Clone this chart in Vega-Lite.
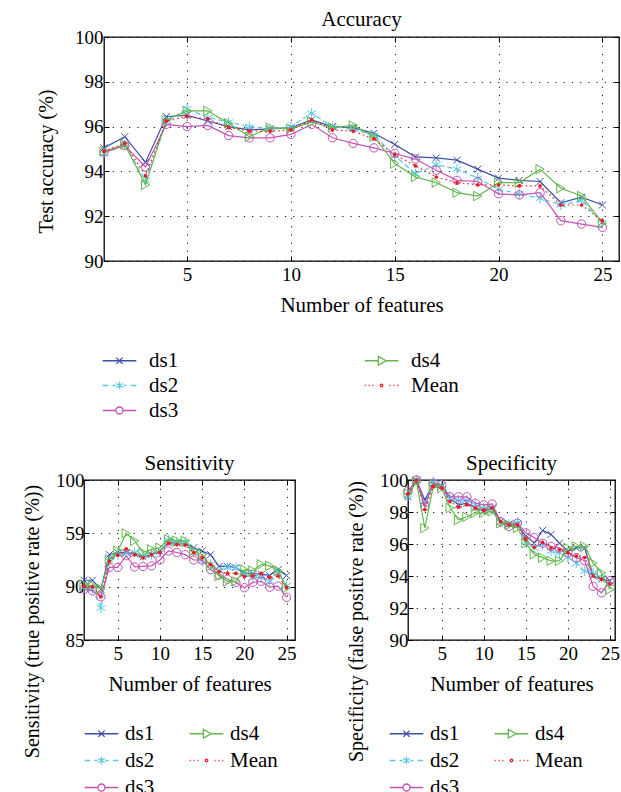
{
"$schema":"https://vega.github.io/schema/vega-lite/v6.json",
"padding":{"left":21,"top":8,"right":0,"bottom":0},
"align":"none",
"config":{
"font":"Liberation Serif",
"view":{"stroke":"#000","strokeWidth":1.3},
"axis":{"labelFont":"Liberation Serif","titleFont":"Liberation Serif","labelFontSize":19,"titleFontSize":21,"labelColor":"#000","titleColor":"#000","titleFontWeight":"normal","domain":false,"ticks":true,"tickColor":"#000","tickSize":-5,"tickWidth":1,"gridColor":"#000","gridDash":[1.2,7],"gridWidth":1,"gridOpacity":0.9},
"title":{"font":"Liberation Serif","fontSize":21,"fontWeight":"normal","color":"#000"},
"legend":{"labelFont":"Liberation Serif","labelFontSize":21,"labelColor":"#000","symbolOpacity":1,"symbolStrokeWidth":1.3,"symbolSize":196,"title":null,"columns":2,"direction":"vertical"}
},
"datasets":{
"acc":[
{"n":1,"s":"ds1","v":95.05},{"n":2,"s":"ds1","v":95.55},{"n":3,"s":"ds1","v":94.4},{"n":4,"s":"ds1","v":96.45},{"n":5,"s":"ds1","v":96.5},{"n":6,"s":"ds1","v":96.25},{"n":7,"s":"ds1","v":96.0},{"n":8,"s":"ds1","v":95.85},{"n":9,"s":"ds1","v":95.9},{"n":10,"s":"ds1","v":95.95},{"n":11,"s":"ds1","v":96.3},{"n":12,"s":"ds1","v":96.0},{"n":13,"s":"ds1","v":95.95},{"n":14,"s":"ds1","v":95.7},{"n":15,"s":"ds1","v":95.2},{"n":16,"s":"ds1","v":94.65},{"n":17,"s":"ds1","v":94.6},{"n":18,"s":"ds1","v":94.5},{"n":19,"s":"ds1","v":94.1},{"n":20,"s":"ds1","v":93.7},{"n":21,"s":"ds1","v":93.6},{"n":22,"s":"ds1","v":93.55},{"n":23,"s":"ds1","v":92.6},{"n":24,"s":"ds1","v":92.85},{"n":25,"s":"ds1","v":92.5},
{"n":1,"s":"ds2","v":94.8},{"n":2,"s":"ds2","v":95.2},{"n":3,"s":"ds2","v":93.6},{"n":4,"s":"ds2","v":96.2},{"n":5,"s":"ds2","v":96.8},{"n":6,"s":"ds2","v":96.4},{"n":7,"s":"ds2","v":96.2},{"n":8,"s":"ds2","v":96.0},{"n":9,"s":"ds2","v":95.9},{"n":10,"s":"ds2","v":96.0},{"n":11,"s":"ds2","v":96.6},{"n":12,"s":"ds2","v":96.0},{"n":13,"s":"ds2","v":95.9},{"n":14,"s":"ds2","v":95.6},{"n":15,"s":"ds2","v":94.7},{"n":16,"s":"ds2","v":93.9},{"n":17,"s":"ds2","v":94.3},{"n":18,"s":"ds2","v":94.1},{"n":19,"s":"ds2","v":93.7},{"n":20,"s":"ds2","v":93.2},{"n":21,"s":"ds2","v":93.0},{"n":22,"s":"ds2","v":92.8},{"n":23,"s":"ds2","v":92.5},{"n":24,"s":"ds2","v":92.7},{"n":25,"s":"ds2","v":91.7},
{"n":1,"s":"ds3","v":94.85},{"n":2,"s":"ds3","v":95.15},{"n":3,"s":"ds3","v":94.2},{"n":4,"s":"ds3","v":96.1},{"n":5,"s":"ds3","v":96.0},{"n":6,"s":"ds3","v":96.05},{"n":7,"s":"ds3","v":95.6},{"n":8,"s":"ds3","v":95.5},{"n":9,"s":"ds3","v":95.5},{"n":10,"s":"ds3","v":95.65},{"n":11,"s":"ds3","v":96.1},{"n":12,"s":"ds3","v":95.5},{"n":13,"s":"ds3","v":95.25},{"n":14,"s":"ds3","v":95.05},{"n":15,"s":"ds3","v":94.8},{"n":16,"s":"ds3","v":94.55},{"n":17,"s":"ds3","v":94.05},{"n":18,"s":"ds3","v":93.6},{"n":19,"s":"ds3","v":93.55},{"n":20,"s":"ds3","v":93.0},{"n":21,"s":"ds3","v":92.95},{"n":22,"s":"ds3","v":93.05},{"n":23,"s":"ds3","v":91.8},{"n":24,"s":"ds3","v":91.65},{"n":25,"s":"ds3","v":91.5},
{"n":1,"s":"ds4","v":94.9},{"n":2,"s":"ds4","v":95.2},{"n":3,"s":"ds4","v":93.4},{"n":4,"s":"ds4","v":96.3},{"n":5,"s":"ds4","v":96.7},{"n":6,"s":"ds4","v":96.7},{"n":7,"s":"ds4","v":96.15},{"n":8,"s":"ds4","v":95.55},{"n":9,"s":"ds4","v":95.95},{"n":10,"s":"ds4","v":95.9},{"n":11,"s":"ds4","v":96.2},{"n":12,"s":"ds4","v":95.95},{"n":13,"s":"ds4","v":96.05},{"n":14,"s":"ds4","v":95.55},{"n":15,"s":"ds4","v":94.35},{"n":16,"s":"ds4","v":93.75},{"n":17,"s":"ds4","v":93.5},{"n":18,"s":"ds4","v":93.05},{"n":19,"s":"ds4","v":92.9},{"n":20,"s":"ds4","v":93.5},{"n":21,"s":"ds4","v":93.5},{"n":22,"s":"ds4","v":94.1},{"n":23,"s":"ds4","v":93.25},{"n":24,"s":"ds4","v":92.9},{"n":25,"s":"ds4","v":91.7},
{"n":1,"s":"Mean","v":94.9},{"n":2,"s":"Mean","v":95.25},{"n":3,"s":"Mean","v":93.8},{"n":4,"s":"Mean","v":96.25},{"n":5,"s":"Mean","v":96.45},{"n":6,"s":"Mean","v":96.35},{"n":7,"s":"Mean","v":95.95},{"n":8,"s":"Mean","v":95.8},{"n":9,"s":"Mean","v":95.8},{"n":10,"s":"Mean","v":95.85},{"n":11,"s":"Mean","v":96.3},{"n":12,"s":"Mean","v":95.85},{"n":13,"s":"Mean","v":95.8},{"n":14,"s":"Mean","v":95.45},{"n":15,"s":"Mean","v":94.75},{"n":16,"s":"Mean","v":94.25},{"n":17,"s":"Mean","v":93.75},{"n":18,"s":"Mean","v":93.5},{"n":19,"s":"Mean","v":93.4},{"n":20,"s":"Mean","v":93.4},{"n":21,"s":"Mean","v":93.35},{"n":22,"s":"Mean","v":93.35},{"n":23,"s":"Mean","v":92.5},{"n":24,"s":"Mean","v":92.5},{"n":25,"s":"Mean","v":91.8}
],
"sens":[
{"n":1,"s":"ds1","v":90.6},{"n":2,"s":"ds1","v":90.6},{"n":3,"s":"ds1","v":89.75},{"n":4,"s":"ds1","v":93.0},{"n":5,"s":"ds1","v":93.2},{"n":6,"s":"ds1","v":93.2},{"n":7,"s":"ds1","v":93.1},{"n":8,"s":"ds1","v":92.8},{"n":9,"s":"ds1","v":93.0},{"n":10,"s":"ds1","v":93.35},{"n":11,"s":"ds1","v":94.1},{"n":12,"s":"ds1","v":94.1},{"n":13,"s":"ds1","v":94.05},{"n":14,"s":"ds1","v":93.65},{"n":15,"s":"ds1","v":93.35},{"n":16,"s":"ds1","v":93.0},{"n":17,"s":"ds1","v":91.9},{"n":18,"s":"ds1","v":91.9},{"n":19,"s":"ds1","v":91.8},{"n":20,"s":"ds1","v":91.3},{"n":21,"s":"ds1","v":91.25},{"n":22,"s":"ds1","v":91.15},{"n":23,"s":"ds1","v":91.05},{"n":24,"s":"ds1","v":91.6},{"n":25,"s":"ds1","v":91.05},
{"n":1,"s":"ds2","v":89.9},{"n":2,"s":"ds2","v":89.8},{"n":3,"s":"ds2","v":88.0},{"n":4,"s":"ds2","v":92.4},{"n":5,"s":"ds2","v":93.0},{"n":6,"s":"ds2","v":93.2},{"n":7,"s":"ds2","v":93.2},{"n":8,"s":"ds2","v":92.9},{"n":9,"s":"ds2","v":93.0},{"n":10,"s":"ds2","v":93.2},{"n":11,"s":"ds2","v":94.4},{"n":12,"s":"ds2","v":94.2},{"n":13,"s":"ds2","v":94.2},{"n":14,"s":"ds2","v":93.2},{"n":15,"s":"ds2","v":92.4},{"n":16,"s":"ds2","v":92.1},{"n":17,"s":"ds2","v":91.5},{"n":18,"s":"ds2","v":91.8},{"n":19,"s":"ds2","v":91.8},{"n":20,"s":"ds2","v":91.15},{"n":21,"s":"ds2","v":90.85},{"n":22,"s":"ds2","v":90.85},{"n":23,"s":"ds2","v":90.5},{"n":24,"s":"ds2","v":91.3},{"n":25,"s":"ds2","v":90.1},
{"n":1,"s":"ds3","v":89.75},{"n":2,"s":"ds3","v":89.6},{"n":3,"s":"ds3","v":89.05},{"n":4,"s":"ds3","v":91.8},{"n":5,"s":"ds3","v":91.8},{"n":6,"s":"ds3","v":92.9},{"n":7,"s":"ds3","v":91.85},{"n":8,"s":"ds3","v":91.9},{"n":9,"s":"ds3","v":91.95},{"n":10,"s":"ds3","v":92.5},{"n":11,"s":"ds3","v":93.35},{"n":12,"s":"ds3","v":93.2},{"n":13,"s":"ds3","v":93.0},{"n":14,"s":"ds3","v":92.5},{"n":15,"s":"ds3","v":92.5},{"n":16,"s":"ds3","v":91.6},{"n":17,"s":"ds3","v":91.1},{"n":18,"s":"ds3","v":90.7},{"n":19,"s":"ds3","v":90.4},{"n":20,"s":"ds3","v":89.9},{"n":21,"s":"ds3","v":90.4},{"n":22,"s":"ds3","v":90.5},{"n":23,"s":"ds3","v":89.95},{"n":24,"s":"ds3","v":90.05},{"n":25,"s":"ds3","v":89.0},
{"n":1,"s":"ds4","v":90.2},{"n":2,"s":"ds4","v":90.1},{"n":3,"s":"ds4","v":89.8},{"n":4,"s":"ds4","v":92.55},{"n":5,"s":"ds4","v":93.35},{"n":6,"s":"ds4","v":95.0},{"n":7,"s":"ds4","v":94.3},{"n":8,"s":"ds4","v":93.2},{"n":9,"s":"ds4","v":93.5},{"n":10,"s":"ds4","v":93.65},{"n":11,"s":"ds4","v":94.45},{"n":12,"s":"ds4","v":94.3},{"n":13,"s":"ds4","v":94.3},{"n":14,"s":"ds4","v":93.35},{"n":15,"s":"ds4","v":93.0},{"n":16,"s":"ds4","v":91.95},{"n":17,"s":"ds4","v":91.0},{"n":18,"s":"ds4","v":90.5},{"n":19,"s":"ds4","v":90.5},{"n":20,"s":"ds4","v":91.6},{"n":21,"s":"ds4","v":91.5},{"n":22,"s":"ds4","v":92.1},{"n":23,"s":"ds4","v":91.95},{"n":24,"s":"ds4","v":91.5},{"n":25,"s":"ds4","v":89.9},
{"n":1,"s":"Mean","v":90.05},{"n":2,"s":"Mean","v":90.0},{"n":3,"s":"Mean","v":89.05},{"n":4,"s":"Mean","v":92.4},{"n":5,"s":"Mean","v":92.95},{"n":6,"s":"Mean","v":93.55},{"n":7,"s":"Mean","v":93.0},{"n":8,"s":"Mean","v":92.7},{"n":9,"s":"Mean","v":93.0},{"n":10,"s":"Mean","v":93.2},{"n":11,"s":"Mean","v":94.05},{"n":12,"s":"Mean","v":93.95},{"n":13,"s":"Mean","v":93.9},{"n":14,"s":"Mean","v":93.2},{"n":15,"s":"Mean","v":92.7},{"n":16,"s":"Mean","v":92.1},{"n":17,"s":"Mean","v":91.4},{"n":18,"s":"Mean","v":91.25},{"n":19,"s":"Mean","v":91.25},{"n":20,"s":"Mean","v":90.95},{"n":21,"s":"Mean","v":91.0},{"n":22,"s":"Mean","v":91.25},{"n":23,"s":"Mean","v":90.85},{"n":24,"s":"Mean","v":91.0},{"n":25,"s":"Mean","v":89.9}
],
"spec":[
{"n":1,"s":"ds1","v":98.95},{"n":2,"s":"ds1","v":100.0},{"n":3,"s":"ds1","v":98.75},{"n":4,"s":"ds1","v":99.8},{"n":5,"s":"ds1","v":99.6},{"n":6,"s":"ds1","v":98.85},{"n":7,"s":"ds1","v":98.45},{"n":8,"s":"ds1","v":98.55},{"n":9,"s":"ds1","v":98.25},{"n":10,"s":"ds1","v":98.05},{"n":11,"s":"ds1","v":98.25},{"n":12,"s":"ds1","v":97.4},{"n":13,"s":"ds1","v":97.25},{"n":14,"s":"ds1","v":97.2},{"n":15,"s":"ds1","v":96.5},{"n":16,"s":"ds1","v":96.05},{"n":17,"s":"ds1","v":96.85},{"n":18,"s":"ds1","v":96.6},{"n":19,"s":"ds1","v":96.05},{"n":20,"s":"ds1","v":95.55},{"n":21,"s":"ds1","v":95.75},{"n":22,"s":"ds1","v":95.75},{"n":23,"s":"ds1","v":94.0},{"n":24,"s":"ds1","v":93.8},{"n":25,"s":"ds1","v":93.7},
{"n":1,"s":"ds2","v":99.05},{"n":2,"s":"ds2","v":100.0},{"n":3,"s":"ds2","v":98.45},{"n":4,"s":"ds2","v":99.9},{"n":5,"s":"ds2","v":99.7},{"n":6,"s":"ds2","v":98.85},{"n":7,"s":"ds2","v":98.75},{"n":8,"s":"ds2","v":98.75},{"n":9,"s":"ds2","v":98.45},{"n":10,"s":"ds2","v":98.25},{"n":11,"s":"ds2","v":98.2},{"n":12,"s":"ds2","v":97.35},{"n":13,"s":"ds2","v":97.25},{"n":14,"s":"ds2","v":97.35},{"n":15,"s":"ds2","v":96.15},{"n":16,"s":"ds2","v":95.75},{"n":17,"s":"ds2","v":95.95},{"n":18,"s":"ds2","v":95.55},{"n":19,"s":"ds2","v":95.45},{"n":20,"s":"ds2","v":95.15},{"n":21,"s":"ds2","v":94.8},{"n":22,"s":"ds2","v":94.3},{"n":23,"s":"ds2","v":94.2},{"n":24,"s":"ds2","v":93.9},{"n":25,"s":"ds2","v":93.5},
{"n":1,"s":"ds3","v":99.3},{"n":2,"s":"ds3","v":100.0},{"n":3,"s":"ds3","v":98.35},{"n":4,"s":"ds3","v":99.8},{"n":5,"s":"ds3","v":99.7},{"n":6,"s":"ds3","v":98.95},{"n":7,"s":"ds3","v":98.95},{"n":8,"s":"ds3","v":98.95},{"n":9,"s":"ds3","v":98.55},{"n":10,"s":"ds3","v":98.45},{"n":11,"s":"ds3","v":98.5},{"n":12,"s":"ds3","v":97.4},{"n":13,"s":"ds3","v":97.1},{"n":14,"s":"ds3","v":97.3},{"n":15,"s":"ds3","v":96.7},{"n":16,"s":"ds3","v":96.4},{"n":17,"s":"ds3","v":96.05},{"n":18,"s":"ds3","v":95.85},{"n":19,"s":"ds3","v":95.75},{"n":20,"s":"ds3","v":95.45},{"n":21,"s":"ds3","v":95.15},{"n":22,"s":"ds3","v":94.95},{"n":23,"s":"ds3","v":93.35},{"n":24,"s":"ds3","v":92.95},{"n":25,"s":"ds3","v":93.7},
{"n":1,"s":"ds4","v":99.15},{"n":2,"s":"ds4","v":99.9},{"n":3,"s":"ds4","v":97.0},{"n":4,"s":"ds4","v":99.6},{"n":5,"s":"ds4","v":99.5},{"n":6,"s":"ds4","v":98.25},{"n":7,"s":"ds4","v":97.5},{"n":8,"s":"ds4","v":97.7},{"n":9,"s":"ds4","v":97.95},{"n":10,"s":"ds4","v":97.95},{"n":11,"s":"ds4","v":98.05},{"n":12,"s":"ds4","v":97.3},{"n":13,"s":"ds4","v":97.2},{"n":14,"s":"ds4","v":97.0},{"n":15,"s":"ds4","v":96.05},{"n":16,"s":"ds4","v":95.35},{"n":17,"s":"ds4","v":95.15},{"n":18,"s":"ds4","v":94.95},{"n":19,"s":"ds4","v":94.95},{"n":20,"s":"ds4","v":95.75},{"n":21,"s":"ds4","v":95.85},{"n":22,"s":"ds4","v":95.85},{"n":23,"s":"ds4","v":94.8},{"n":24,"s":"ds4","v":94.2},{"n":25,"s":"ds4","v":93.15},
{"n":1,"s":"Mean","v":99.15},{"n":2,"s":"Mean","v":100.0},{"n":3,"s":"Mean","v":98.15},{"n":4,"s":"Mean","v":99.6},{"n":5,"s":"Mean","v":99.5},{"n":6,"s":"Mean","v":98.65},{"n":7,"s":"Mean","v":98.3},{"n":8,"s":"Mean","v":98.45},{"n":9,"s":"Mean","v":98.25},{"n":10,"s":"Mean","v":98.1},{"n":11,"s":"Mean","v":98.25},{"n":12,"s":"Mean","v":97.4},{"n":13,"s":"Mean","v":97.2},{"n":14,"s":"Mean","v":97.2},{"n":15,"s":"Mean","v":96.3},{"n":16,"s":"Mean","v":95.8},{"n":17,"s":"Mean","v":96.1},{"n":18,"s":"Mean","v":95.75},{"n":19,"s":"Mean","v":95.65},{"n":20,"s":"Mean","v":95.45},{"n":21,"s":"Mean","v":95.25},{"n":22,"s":"Mean","v":95.15},{"n":23,"s":"Mean","v":94.0},{"n":24,"s":"Mean","v":93.8},{"n":25,"s":"Mean","v":93.5}
]
},
"spacing":30,
"resolve":{"scale":{"color":"independent","shape":"independent"}},
"vconcat":[
{
"spacing":-51,
"align":"none",
"resolve":{"scale":{"color":"independent","shape":"independent"}},
"hconcat":[
{"width":1,"height":10,"data":{"values":[]},"mark":"point","view":{"stroke":"transparent","fill":null}},
{
"width":515,"height":224,
"title":{"text":"Accuracy","frame":"group","offset":-2},
"data":{"name":"acc"},
"resolve":{"axis":{"x":"independent","y":"independent"}},
"layer":[
{"transform":[{"filter":"datum.s==='ds1'"}],"mark":{"type":"line","color":"#3d4fa6","strokeWidth":1.2,"point":{"shape":"M-1,-1L1,1M-1,1L1,-1","size":49,"filled":false,"color":"#3d4fa6","strokeWidth":1,"opacity":1}},
"encoding":{
"x":{"field":"n","type":"quantitative","scale":{"domain":[1,25.8],"nice":false,"zero":false},"axis":{"values":[5,10,15,20,25],"title":"Number of features","grid":true,"labelPadding":9,"titlePadding":10}},
"y":{"field":"v","type":"quantitative","scale":{"domain":[90,100],"nice":false,"zero":false},"axis":{"values":[90,92,94,96,98,100],"title":"Test accuracy (%)","titleFontSize":20,"grid":true,"labelPadding":6,"titlePadding":11,"titleX":-48,"titleY":124}}}},
{"transform":[{"filter":"datum.s==='ds2'"}],"mark":{"type":"line","color":"#5ac8e6","strokeWidth":1.2,"strokeDash":[5,3],"point":{"shape":"M0,-1V1M-0.87,-0.5L0.87,0.5M-0.87,0.5L0.87,-0.5","size":100,"filled":false,"color":"#5ac8e6","strokeWidth":1,"opacity":1}},"encoding":{"x":{"field":"n","type":"quantitative","axis":null},"y":{"field":"v","type":"quantitative","axis":null}}},
{"transform":[{"filter":"datum.s==='ds3'"}],"mark":{"type":"line","color":"#c452b4","strokeWidth":1.2,"point":{"shape":"circle","size":70,"filled":false,"color":"#c452b4","strokeWidth":1,"opacity":1}},"encoding":{"x":{"field":"n","type":"quantitative","axis":null},"y":{"field":"v","type":"quantitative","axis":null}}},
{"transform":[{"filter":"datum.s==='ds4'"}],"mark":{"type":"line","color":"#62b84c","strokeWidth":1.2,"point":{"shape":"triangle-right","size":90,"filled":false,"color":"#62b84c","strokeWidth":1,"opacity":1}},"encoding":{"x":{"field":"n","type":"quantitative","axis":null},"y":{"field":"v","type":"quantitative","axis":null}}},
{"transform":[{"filter":"datum.s==='Mean'"}],"mark":{"type":"line","color":"#ee1c24","strokeWidth":1.2,"strokeDash":[1.5,3],"point":{"shape":"circle","size":14,"filled":true,"color":"#ee1c24","opacity":1}},"encoding":{"x":{"field":"n","type":"quantitative","axis":null},"y":{"field":"v","type":"quantitative","axis":null}}},
{"mark":{"type":"point","filled":false,"opacity":0},
"encoding":{
"x":{"field":"n","type":"quantitative","axis":{"orient":"top","labels":false,"title":null,"grid":false,"values":[5,10,15,20,25]}},
"y":{"field":"v","type":"quantitative","axis":{"orient":"right","labels":false,"title":null,"grid":false,"values":[90,92,94,96,98,100]}},
"color":{"field":"s","type":"nominal","scale":{"domain":["ds1","ds2","ds3","ds4","Mean"],"range":["#3d4fa6","#5ac8e6","#c452b4","#62b84c","#ee1c24"]},"legend":{"orient":"none","legendX":5,"legendY":313,"columnPadding":183,"labelOffset":19,"labelFont":"Liberation Serif","rowPadding":3}},
"shape":{"field":"s","type":"nominal","scale":{"domain":["ds1","ds2","ds3","ds4","Mean"],"range":["M-2.4,0H2.4M-0.45,-0.45L0.45,0.45M-0.45,0.45L0.45,-0.45","M-2.4,0H-1.6M-1.0,0H-0.55M0.55,0H1.0M1.6,0H2.4M0,-0.55V0.55M-0.48,-0.28L0.48,0.28M-0.48,0.28L0.48,-0.28","M-2.4,0H-0.5M0.5,0H2.4M0.5,0A0.5,0.5 0 1,1 -0.5,0A0.5,0.5 0 1,1 0.5,0Z","M-2.4,0H-0.45M0.65,0H2.4M-0.45,-0.62L0.65,0L-0.45,0.62Z","M-2.4,0H-2.25M-1.85,0H-1.7M-1.3,0H-1.15M1.15,0H1.3M1.7,0H1.85M2.25,0H2.4M0.18,0A0.18,0.18 0 1,1 -0.18,0A0.18,0.18 0 1,1 0.18,0Z"]},"legend":{"orient":"none","legendX":5,"legendY":313,"columnPadding":183,"labelOffset":19,"labelFont":"Liberation Serif","rowPadding":3}}
}}
]
}
]
},
{
"spacing":48,
"align":"none",
"resolve":{"scale":{"color":"independent","shape":"independent"}},
"hconcat":[
{
"width":211,"height":160,
"title":{"text":"Sensitivity","frame":"group","offset":-3},
"data":{"name":"sens"},
"resolve":{"axis":{"x":"independent","y":"independent"}},
"layer":[
{"transform":[{"filter":"datum.s==='ds1'"}],"mark":{"type":"line","color":"#3d4fa6","strokeWidth":1.2,"point":{"shape":"M-1,-1L1,1M-1,1L1,-1","size":49,"filled":false,"color":"#3d4fa6","strokeWidth":1,"opacity":1}},
"encoding":{
"x":{"field":"n","type":"quantitative","scale":{"domain":[1,26],"nice":false,"zero":false},"axis":{"values":[5,10,15,20,25],"title":"Number of features","grid":true,"labelPadding":9,"titlePadding":10}},
"y":{"field":"v","type":"quantitative","scale":{"domain":[85,100],"nice":false,"zero":false},"axis":{"values":[85,90,95,100],"labelExpr":"datum.value === 95 ? '59' : datum.label","title":"Sensitivity (true positive rate (%))","titleFontSize":20,"grid":true,"labelPadding":5,"titlePadding":13,"titleY":141}}}},
{"transform":[{"filter":"datum.s==='ds2'"}],"mark":{"type":"line","color":"#5ac8e6","strokeWidth":1.2,"strokeDash":[5,3],"point":{"shape":"M0,-1V1M-0.87,-0.5L0.87,0.5M-0.87,0.5L0.87,-0.5","size":100,"filled":false,"color":"#5ac8e6","strokeWidth":1,"opacity":1}},"encoding":{"x":{"field":"n","type":"quantitative","axis":null},"y":{"field":"v","type":"quantitative","axis":null}}},
{"transform":[{"filter":"datum.s==='ds3'"}],"mark":{"type":"line","color":"#c452b4","strokeWidth":1.2,"point":{"shape":"circle","size":70,"filled":false,"color":"#c452b4","strokeWidth":1,"opacity":1}},"encoding":{"x":{"field":"n","type":"quantitative","axis":null},"y":{"field":"v","type":"quantitative","axis":null}}},
{"transform":[{"filter":"datum.s==='ds4'"}],"mark":{"type":"line","color":"#62b84c","strokeWidth":1.2,"point":{"shape":"triangle-right","size":90,"filled":false,"color":"#62b84c","strokeWidth":1,"opacity":1}},"encoding":{"x":{"field":"n","type":"quantitative","axis":null},"y":{"field":"v","type":"quantitative","axis":null}}},
{"transform":[{"filter":"datum.s==='Mean'"}],"mark":{"type":"line","color":"#ee1c24","strokeWidth":1.2,"strokeDash":[1.5,3],"point":{"shape":"circle","size":14,"filled":true,"color":"#ee1c24","opacity":1}},"encoding":{"x":{"field":"n","type":"quantitative","axis":null},"y":{"field":"v","type":"quantitative","axis":null}}},
{"mark":{"type":"point","filled":false,"opacity":0},
"encoding":{
"x":{"field":"n","type":"quantitative","axis":{"orient":"top","labels":false,"title":null,"grid":false,"values":[5,10,15,20,25]}},
"y":{"field":"v","type":"quantitative","axis":{"orient":"right","labels":false,"title":null,"grid":false,"values":[85,90,95,100]}},
"color":{"field":"s","type":"nominal","scale":{"domain":["ds1","ds2","ds3","ds4","Mean"],"range":["#3d4fa6","#5ac8e6","#c452b4","#62b84c","#ee1c24"]},"legend":{"orient":"none","legendX":7,"legendY":243,"columnPadding":32,"labelOffset":13,"labelFont":"Liberation Serif","rowPadding":5}},
"shape":{"field":"s","type":"nominal","scale":{"domain":["ds1","ds2","ds3","ds4","Mean"],"range":["M-2.4,0H2.4M-0.45,-0.45L0.45,0.45M-0.45,0.45L0.45,-0.45","M-2.4,0H-1.6M-1.0,0H-0.55M0.55,0H1.0M1.6,0H2.4M0,-0.55V0.55M-0.48,-0.28L0.48,0.28M-0.48,0.28L0.48,-0.28","M-2.4,0H-0.5M0.5,0H2.4M0.5,0A0.5,0.5 0 1,1 -0.5,0A0.5,0.5 0 1,1 0.5,0Z","M-2.4,0H-0.45M0.65,0H2.4M-0.45,-0.62L0.65,0L-0.45,0.62Z","M-2.4,0H-2.25M-1.85,0H-1.7M-1.3,0H-1.15M1.15,0H1.3M1.7,0H1.85M2.25,0H2.4M0.18,0A0.18,0.18 0 1,1 -0.18,0A0.18,0.18 0 1,1 0.18,0Z"]},"legend":{"orient":"none","legendX":7,"legendY":243,"columnPadding":32,"labelOffset":13,"labelFont":"Liberation Serif","rowPadding":5}}
}}
]
},
{
"width":207,"height":160,
"title":{"text":"Specificity","frame":"group","offset":-3},
"data":{"name":"spec"},
"resolve":{"axis":{"x":"independent","y":"independent"}},
"layer":[
{"transform":[{"filter":"datum.s==='ds1'"}],"mark":{"type":"line","color":"#3d4fa6","strokeWidth":1.2,"point":{"shape":"M-1,-1L1,1M-1,1L1,-1","size":49,"filled":false,"color":"#3d4fa6","strokeWidth":1,"opacity":1}},
"encoding":{
"x":{"field":"n","type":"quantitative","scale":{"domain":[1,25.6],"nice":false,"zero":false},"axis":{"values":[5,10,15,20,25],"title":"Number of features","grid":true,"labelPadding":9,"titlePadding":10}},
"y":{"field":"v","type":"quantitative","scale":{"domain":[90,100],"nice":false,"zero":false},"axis":{"values":[90,92,94,96,98,100],"title":"Specificity (false positive rate (%))","titleFontSize":20,"grid":true,"labelPadding":5,"titlePadding":13,"titleY":141}}}},
{"transform":[{"filter":"datum.s==='ds2'"}],"mark":{"type":"line","color":"#5ac8e6","strokeWidth":1.2,"strokeDash":[5,3],"point":{"shape":"M0,-1V1M-0.87,-0.5L0.87,0.5M-0.87,0.5L0.87,-0.5","size":100,"filled":false,"color":"#5ac8e6","strokeWidth":1,"opacity":1}},"encoding":{"x":{"field":"n","type":"quantitative","axis":null},"y":{"field":"v","type":"quantitative","axis":null}}},
{"transform":[{"filter":"datum.s==='ds3'"}],"mark":{"type":"line","color":"#c452b4","strokeWidth":1.2,"point":{"shape":"circle","size":70,"filled":false,"color":"#c452b4","strokeWidth":1,"opacity":1}},"encoding":{"x":{"field":"n","type":"quantitative","axis":null},"y":{"field":"v","type":"quantitative","axis":null}}},
{"transform":[{"filter":"datum.s==='ds4'"}],"mark":{"type":"line","color":"#62b84c","strokeWidth":1.2,"point":{"shape":"triangle-right","size":90,"filled":false,"color":"#62b84c","strokeWidth":1,"opacity":1}},"encoding":{"x":{"field":"n","type":"quantitative","axis":null},"y":{"field":"v","type":"quantitative","axis":null}}},
{"transform":[{"filter":"datum.s==='Mean'"}],"mark":{"type":"line","color":"#ee1c24","strokeWidth":1.2,"strokeDash":[1.5,3],"point":{"shape":"circle","size":14,"filled":true,"color":"#ee1c24","opacity":1}},"encoding":{"x":{"field":"n","type":"quantitative","axis":null},"y":{"field":"v","type":"quantitative","axis":null}}},
{"mark":{"type":"point","filled":false,"opacity":0},
"encoding":{
"x":{"field":"n","type":"quantitative","axis":{"orient":"top","labels":false,"title":null,"grid":false,"values":[5,10,15,20,25]}},
"y":{"field":"v","type":"quantitative","axis":{"orient":"right","labels":false,"title":null,"grid":false,"values":[90,92,94,96,98,100]}},
"color":{"field":"s","type":"nominal","scale":{"domain":["ds1","ds2","ds3","ds4","Mean"],"range":["#3d4fa6","#5ac8e6","#c452b4","#62b84c","#ee1c24"]},"legend":{"orient":"none","legendX":-12,"legendY":243,"columnPadding":32,"labelOffset":13,"labelFont":"Liberation Serif","rowPadding":5}},
"shape":{"field":"s","type":"nominal","scale":{"domain":["ds1","ds2","ds3","ds4","Mean"],"range":["M-2.4,0H2.4M-0.45,-0.45L0.45,0.45M-0.45,0.45L0.45,-0.45","M-2.4,0H-1.6M-1.0,0H-0.55M0.55,0H1.0M1.6,0H2.4M0,-0.55V0.55M-0.48,-0.28L0.48,0.28M-0.48,0.28L0.48,-0.28","M-2.4,0H-0.5M0.5,0H2.4M0.5,0A0.5,0.5 0 1,1 -0.5,0A0.5,0.5 0 1,1 0.5,0Z","M-2.4,0H-0.45M0.65,0H2.4M-0.45,-0.62L0.65,0L-0.45,0.62Z","M-2.4,0H-2.25M-1.85,0H-1.7M-1.3,0H-1.15M1.15,0H1.3M1.7,0H1.85M2.25,0H2.4M0.18,0A0.18,0.18 0 1,1 -0.18,0A0.18,0.18 0 1,1 0.18,0Z"]},"legend":{"orient":"none","legendX":-12,"legendY":243,"columnPadding":32,"labelOffset":13,"labelFont":"Liberation Serif","rowPadding":5}}
}}
]
}
]
}
]
}
